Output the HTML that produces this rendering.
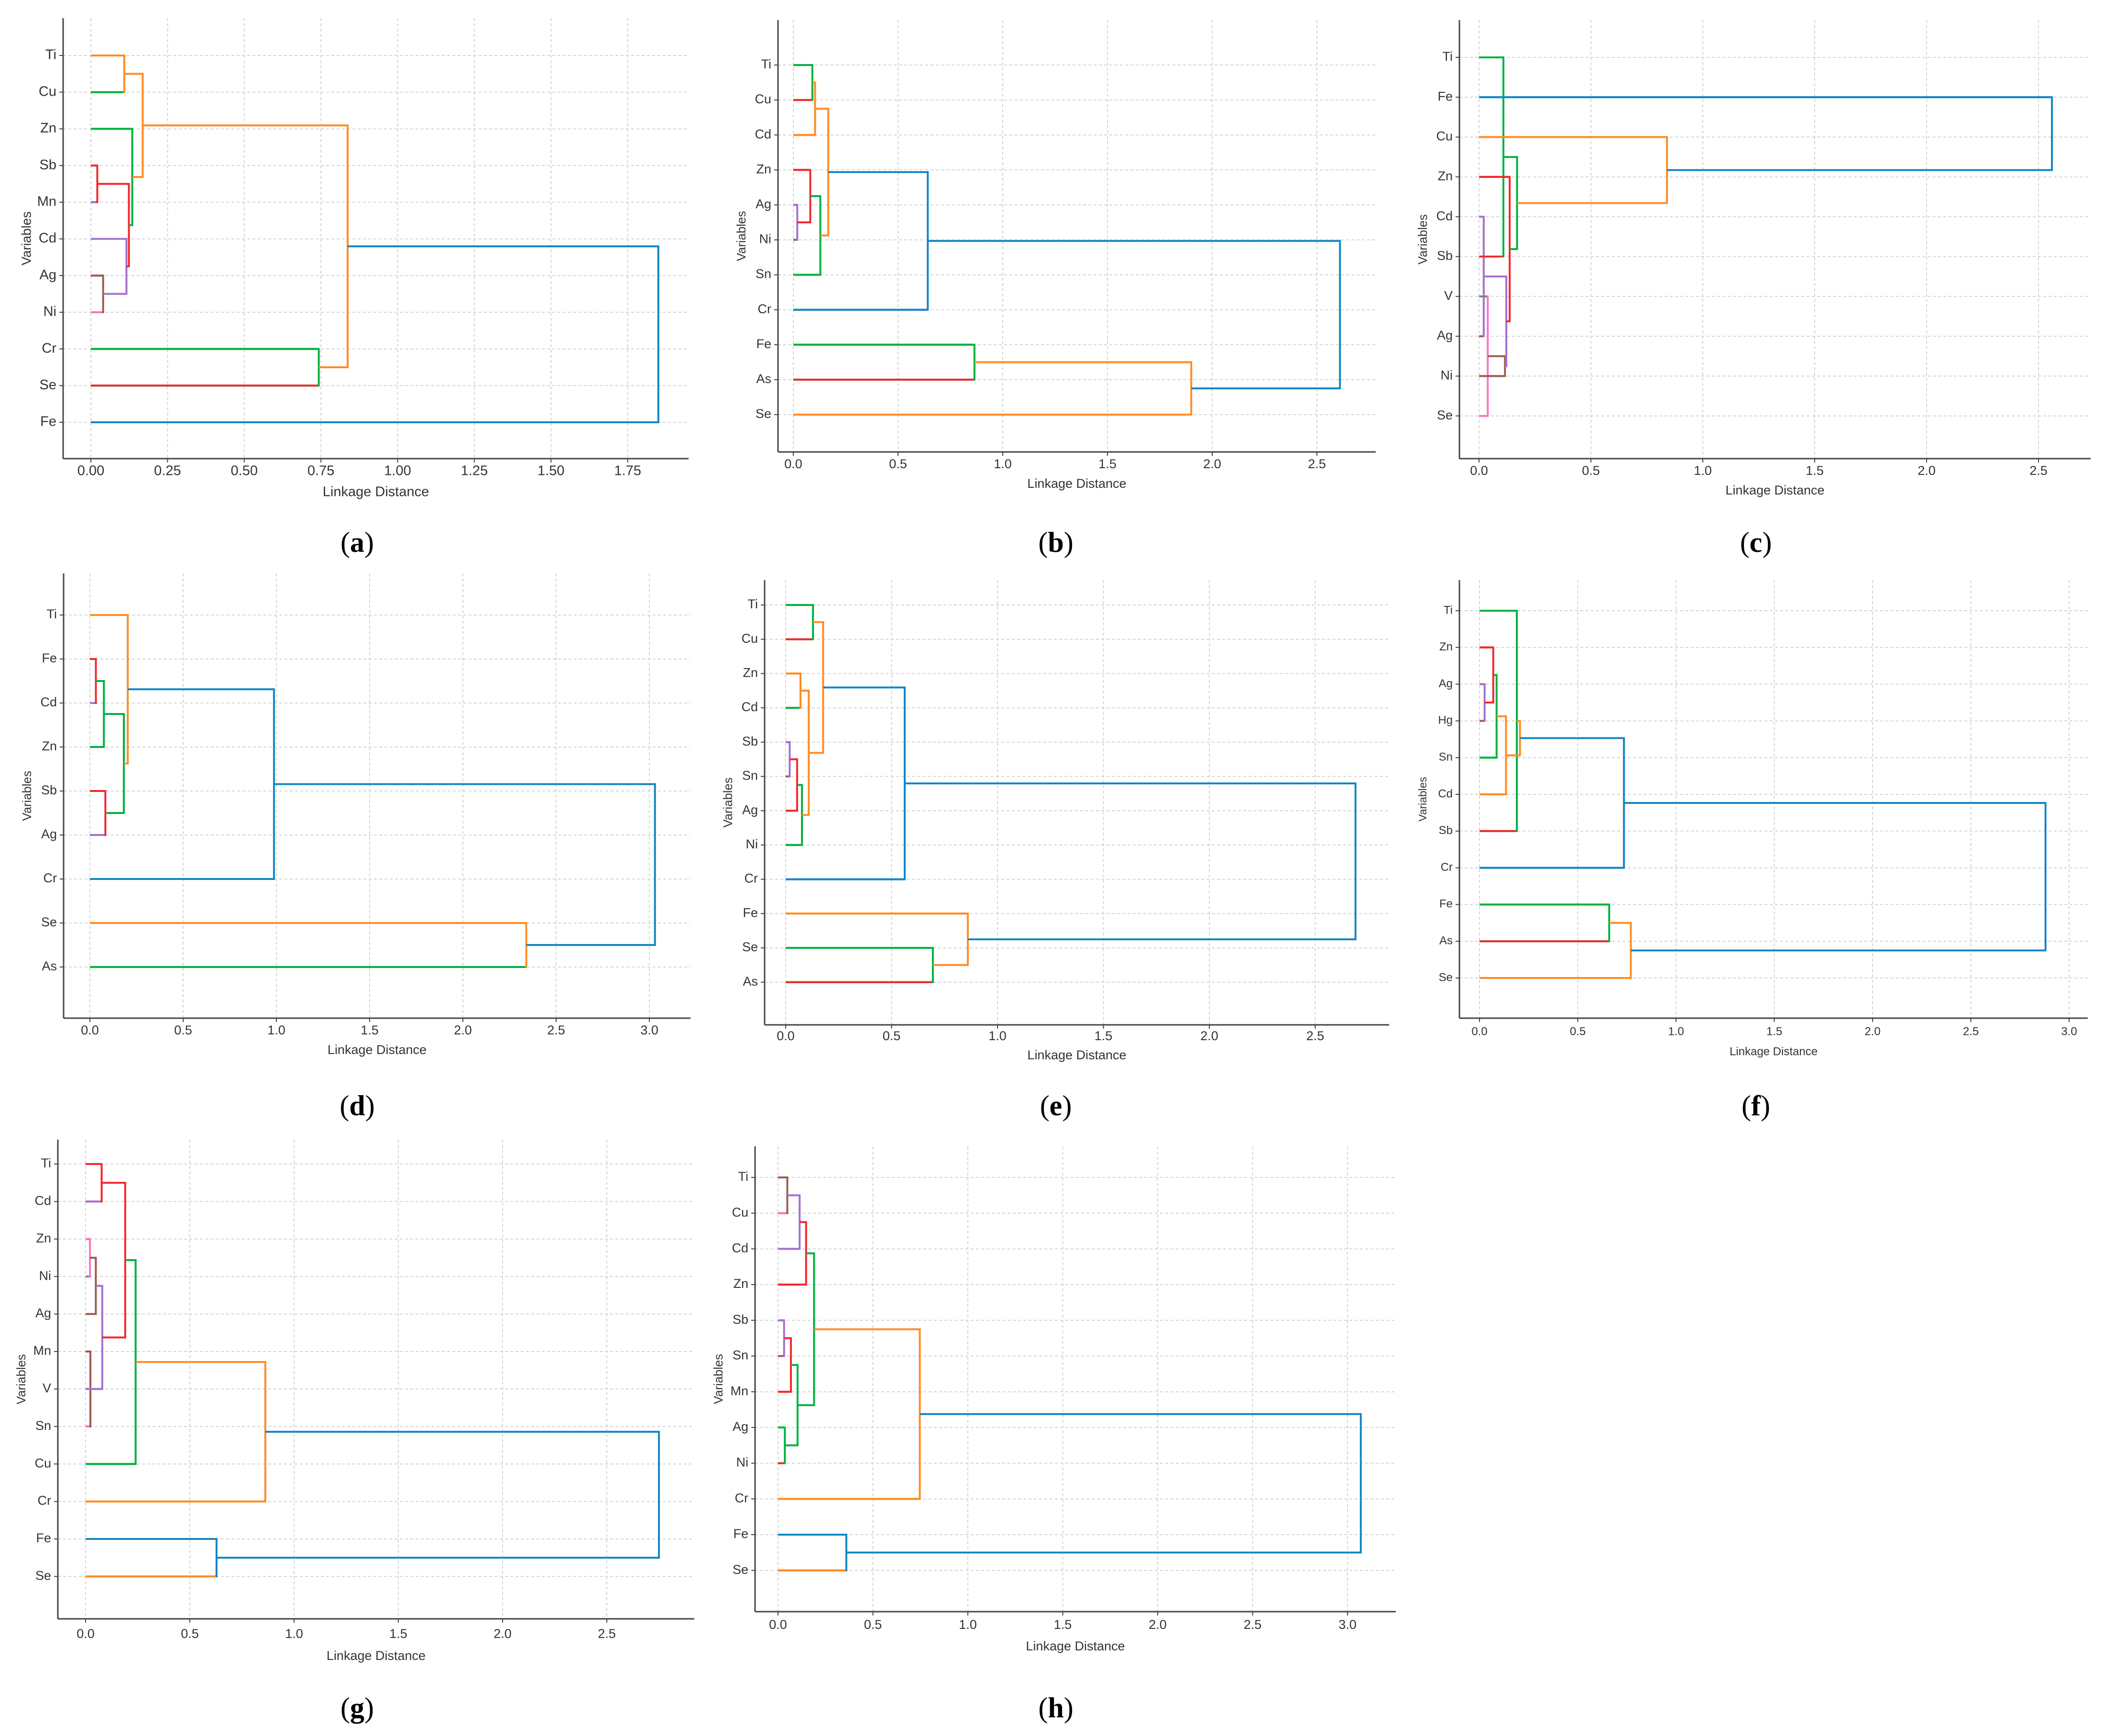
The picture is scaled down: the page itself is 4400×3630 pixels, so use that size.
<!DOCTYPE html>
<html>
<head>
<meta charset="utf-8">
<style>
  html,body{margin:0;padding:0;background:#fff;}
  svg{display:block;}
  text{font-family:"Liberation Sans","DejaVu Sans",sans-serif;fill:#333;}
</style>
</head>
<body>
<svg id="fig" xmlns="http://www.w3.org/2000/svg" width="4400" height="3630" viewBox="0 0 4400 3630"></svg>
<script>
// ---------- DATA ----------
const leavesA = ["Ti","Cu","Zn","Sb","Mn","Cd","Ag","Ni","Cr","Se","Fe"];
const mergesA = [["Ti","Cu"],["Sb","Mn"],["Ag","Ni"],["Cd",2],[1,3],["Zn",4],[0,5],["Cr","Se"],[6,7],[8,"Fe"]];
const heightsA = [0.109,0.021,0.04,0.116,0.124,0.135,0.169,0.743,0.837,1.85];
const colorsA = ["o","r","br","p","r","g","o","g","o","b"];
const leafColorsA = ["o","g","g","r","p","p","br","pk","g","r","b"];
const ticksA = [0,0.25,0.5,0.75,1.0,1.25,1.5,1.75];

const leavesB = ["Ti","Cu","Cd","Zn","Ag","Ni","Sn","Cr","Fe","As","Se"];
const mergesB = [["Ti","Cu"],[0,"Cd"],["Ag","Ni"],["Zn",2],[3,"Sn"],[1,4],[5,"Cr"],["Fe","As"],[7,"Se"],[6,8]];
const heightsB = [0.091,0.104,0.019,0.081,0.129,0.167,0.642,0.865,1.9,2.61];
const colorsB = ["g","o","p","r","g","o","b","g","o","b"];
const leafColorsB = ["g","r","o","r","p","br","g","b","g","r","o"];
const ticksB = [0,0.5,1.0,1.5,2.0,2.5];

const leavesC = ["Ti","Fe","Cu","Zn","Cd","Sb","V","Ag","Ni","Se"];
const mergesC = [["Ti","Sb"],["Cd","Ag"],["V","Se"],[2,"Ni"],[1,3],["Zn",4],[0,5],["Cu",6],["Fe",7]];
const heightsC = [0.109,0.021,0.039,0.116,0.122,0.137,0.17,0.84,2.56];
const colorsC = ["g","p","pk","br","p","r","g","o","b"];
const leafColorsC = ["g","b","o","r","p","r","gr","br","br","pk"];
const ticksC = [0,0.5,1.0,1.5,2.0,2.5];

const leavesD = ["Ti","Fe","Cd","Zn","Sb","Ag","Cr","Se","As"];
const mergesD = [["Fe","Cd"],[0,"Zn"],["Sb","Ag"],[1,2],["Ti",3],[4,"Cr"],["Se","As"],[5,6]];
const heightsD = [0.032,0.075,0.083,0.182,0.203,0.987,2.34,3.03];
const colorsD = ["r","g","r","g","o","b","o","b"];
const leafColorsD = ["o","r","p","g","r","p","b","o","g"];
const ticksD = [0,0.5,1.0,1.5,2.0,2.5,3.0];

const leavesE = ["Ti","Cu","Zn","Cd","Sb","Sn","Ag","Ni","Cr","Fe","Se","As"];
const mergesE = [["Ti","Cu"],["Zn","Cd"],["Sb","Sn"],[2,"Ag"],[3,"Ni"],[1,4],[0,5],[6,"Cr"],["Se","As"],["Fe",8],[7,9]];
const heightsE = [0.129,0.07,0.019,0.054,0.077,0.109,0.177,0.562,0.695,0.86,2.69];
const colorsE = ["g","o","p","r","g","o","o","b","g","o","b"];
const leafColorsE = ["g","r","o","g","p","br","r","g","b","o","g","r"];
const ticksE = [0,0.5,1.0,1.5,2.0,2.5];

const leavesF = ["Ti","Zn","Ag","Hg","Sn","Cd","Sb","Cr","Fe","As","Se"];
const mergesF = [["Ag","Hg"],["Zn",0],[1,"Sn"],[2,"Cd"],["Ti","Sb"],[4,3],[5,"Cr"],["Fe","As"],[7,"Se"],[6,8]];
const heightsF = [0.026,0.07,0.087,0.135,0.19,0.206,0.735,0.66,0.77,2.88];
const colorsF = ["p","r","g","o","g","o","b","g","o","b"];
const leafColorsF = ["g","r","p","br","g","o","r","b","g","r","o"];
const ticksF = [0,0.5,1.0,1.5,2.0,2.5,3.0];

const leavesG = ["Ti","Cd","Zn","Ni","Ag","Mn","V","Sn","Cu","Cr","Fe","Se"];
const mergesG = [["Ti","Cd"],["Zn","Ni"],[1,"Ag"],["Mn","Sn"],[2,"V"],[0,4],[5,"Cu"],[6,"Cr"],["Fe","Se"],[7,8]];
const heightsG = [0.077,0.021,0.049,0.023,0.08,0.19,0.24,0.862,0.628,2.75];
const colorsG = ["r","pk","br","br","p","r","g","o","b","b"];
const leafColorsG = ["r","p","pk","gr","br","br","p","pk","g","o","b","o"];
const ticksG = [0,0.5,1.0,1.5,2.0,2.5];

const leavesH = ["Ti","Cu","Cd","Zn","Sb","Sn","Mn","Ag","Ni","Cr","Fe","Se"];
const mergesH = [["Ti","Cu"],[0,"Cd"],[1,"Zn"],["Sb","Sn"],[3,"Mn"],["Ag","Ni"],[4,5],[2,6],[7,"Cr"],["Fe","Se"],[8,9]];
const heightsH = [0.049,0.114,0.148,0.032,0.068,0.036,0.103,0.19,0.747,0.36,3.07];
const colorsH = ["br","p","r","p","r","g","g","g","o","b","b"];
const leafColorsH = ["br","pk","p","r","p","br","r","g","r","o","b","o"];
const ticksH = [0,0.5,1.0,1.5,2.0,2.5,3.0];

// ---------- STYLE / LAYOUT ----------
const PALETTE = {o:"#ff8c21", g:"#00b140", r:"#f5262c", p:"#a46fd0", br:"#9b5b4f", pk:"#ff72c3", b:"#1386c6", gr:"#808080"};
const NS = "http://www.w3.org/2000/svg";
const svg = document.getElementById("fig");

function mk(tag, attrs, parent){
  const e = document.createElementNS(NS, tag);
  for (const k in attrs) e.setAttribute(k, attrs[k]);
  parent.appendChild(e);
  return e;
}

function drawPanel(id, L, leaves, merges, heights, colors, leafColors, ticks, dec){
  const g = mk("g", {}, svg);
  
  
  const xs = v => L.x0 + v * L.unit;
  const ys = i => L.y0 + i * L.sp;
  const fs = L.fs;

  ticks.forEach(t => {
    const ln = mk("line", {x1:xs(t), x2:xs(t), y1:L.top, y2:L.bottom, stroke:"#d4d4d4", "stroke-width":2, "stroke-dasharray":"6 5"}, g);
    
    
  });
  leaves.forEach((n, i) => {
    const ln = mk("line", {x1:L.left, x2:L.right, y1:ys(i), y2:ys(i), stroke:"#d4d4d4", "stroke-width":2, "stroke-dasharray":"6 5"}, g);
    
    
  });

  const sp1 = mk("line", {x1:L.left, x2:L.left, y1:L.top, y2:L.bottom, stroke:"#444", "stroke-width":3}, g);
  
  
  const sp2 = mk("line", {x1:L.left, x2:L.right, y1:L.bottom, y2:L.bottom, stroke:"#444", "stroke-width":3}, g);
  
  

  ticks.forEach(t => {
    const tk = mk("line", {x1:xs(t), x2:xs(t), y1:L.bottom, y2:L.bottom+8, stroke:"#444", "stroke-width":2}, g);
    
    
    const tx = mk("text", {x:xs(t), y:L.tickY, "font-size":fs, "text-anchor":"middle", "dominant-baseline":"middle"}, g);
    tx.textContent = t.toFixed(dec);
    
    
  });

  leaves.forEach((n, i) => {
    const tk = mk("line", {x1:L.left-8, x2:L.left, y1:ys(i), y2:ys(i), stroke:"#444", "stroke-width":2}, g);
    
    
    const tx = mk("text", {x:L.left-14, y:ys(i), "font-size":fs, "text-anchor":"end", "dominant-baseline":"middle"}, g);
    tx.textContent = n;
    
    
  });

  const xt = mk("text", {x:(L.left+L.right)/2, y:L.titleY, "font-size":fs, "text-anchor":"middle", "dominant-baseline":"middle"}, g);
  xt.textContent = "Linkage Distance";
  
  
  const yc = (L.top + L.bottom) / 2;
  const yt = mk("text", {x:L.left-75, y:yc, "font-size":fs*0.95, "text-anchor":"middle", "dominant-baseline":"middle", transform:"rotate(-90 "+(L.left-75)+" "+yc+")"}, g);
  yt.textContent = "Variables";
  
  

  const pos = [];
  const stubs = [];
  const info = c => (typeof c === "string") ? {y: leaves.indexOf(c), h: 0} : {y: pos[c], h: heights[c]};
  merges.forEach((m, i) => {
    const a = info(m[0]), b = info(m[1]), h = heights[i];
    pos[i] = (a.y + b.y) / 2;
    const pts = [[xs(a.h), ys(a.y)], [xs(h), ys(a.y)], [xs(h), ys(b.y)], [xs(b.h), ys(b.y)]];
    const pl = mk("polyline", {points: pts.map(p => p.join(",")).join(" "), fill:"none", stroke:PALETTE[colors[i]], "stroke-width":4, "stroke-linejoin":"miter"}, g);
    
    
    m.forEach(c => { if (typeof c === "string") stubs.push([leaves.indexOf(c), h]); });
  });
  stubs.forEach(s => {
    const li = s[0];
    const ln = mk("line", {x1:xs(0), x2:xs(s[1]) - 2, y1:ys(li), y2:ys(li), stroke:PALETTE[leafColors[li]], "stroke-width":4}, g);
    
    
  });

  const cap = mk("text", {x:L.capX, y:L.capY, "font-size":60, "text-anchor":"middle", "dominant-baseline":"middle", style:"font-family:'Liberation Serif',serif;fill:#000"}, g);
  cap.innerHTML = '(<tspan font-weight="bold">' + id + '</tspan>)';
  
  
}

drawPanel("a", {x0:190, unit:641.5, y0:116, sp:76.7, left:132, right:1440, top:38, bottom:959, tickY:986, titleY:1030, fs:29, capX:747, capY:1140}, leavesA, mergesA, heightsA, colorsA, leafColorsA, ticksA, 2);
drawPanel("b", {x0:1659, unit:438, y0:136, sp:73.1, left:1627, right:2877, top:42, bottom:945, tickY:972, titleY:1013, fs:27, capX:2208, capY:1140}, leavesB, mergesB, heightsB, colorsB, leafColorsB, ticksB, 1);
drawPanel("c", {x0:3093, unit:468, y0:120, sp:83.3, left:3052, right:4372, top:42, bottom:959, tickY:986, titleY:1027, fs:27, capX:3672, capY:1140}, leavesC, mergesC, heightsC, colorsC, leafColorsC, ticksC, 1);
drawPanel("d", {x0:188, unit:390, y0:1286, sp:92, left:133, right:1444, top:1199, bottom:2129, tickY:2156, titleY:2197, fs:27, capX:747, capY:2318}, leavesD, mergesD, heightsD, colorsD, leafColorsD, ticksD, 1);
drawPanel("e", {x0:1643, unit:443, y0:1265, sp:71.7, left:1599, right:2905, top:1213, bottom:2143, tickY:2168, titleY:2208, fs:27, capX:2208, capY:2318}, leavesE, mergesE, heightsE, colorsE, leafColorsE, ticksE, 1);
drawPanel("f", {x0:3094, unit:411, y0:1277, sp:76.8, left:3052, right:4366, top:1213, bottom:2129, tickY:2158, titleY:2200, fs:24, capX:3672, capY:2318}, leavesF, mergesF, heightsF, colorsF, leafColorsF, ticksF, 1);
drawPanel("g", {x0:179, unit:436, y0:2434, sp:78.4, left:121, right:1452, top:2383, bottom:3385, tickY:3418, titleY:3464, fs:27, capX:747, capY:3577}, leavesG, mergesG, heightsG, colorsG, leafColorsG, ticksG, 1);
drawPanel("h", {x0:1627, unit:397, y0:2462, sp:74.7, left:1579, right:2919, top:2397, bottom:3370, tickY:3399, titleY:3444, fs:27, capX:2208, capY:3577}, leavesH, mergesH, heightsH, colorsH, leafColorsH, ticksH, 1);
</script>
</body>
</html>
